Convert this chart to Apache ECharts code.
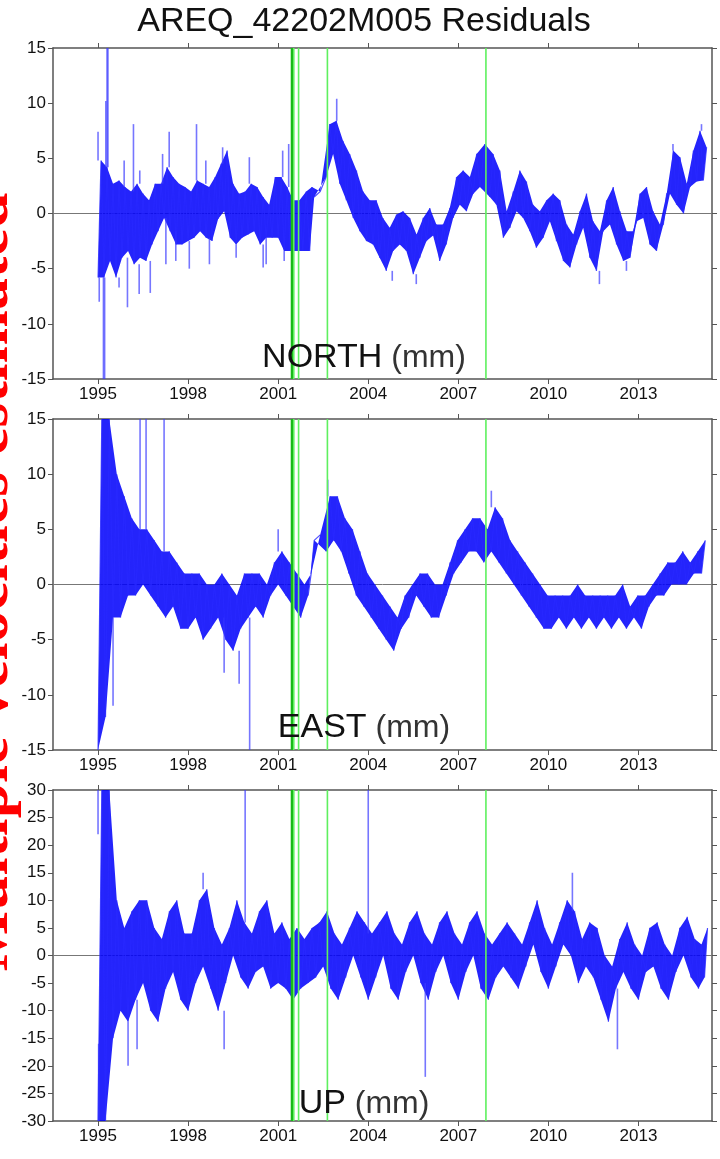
<!DOCTYPE html>
<html><head><meta charset="utf-8">
<script src="https://cdn.jsdelivr.net/npm/echarts@6/dist/echarts.min.js"></script>
<style>html,body{margin:0;padding:0;background:#fff}#c{width:720px;height:1159px}</style>
</head><body><div id="c"></div>
<script>
// ---------------- data ----------------
const chartTitle = 'AREQ_42202M005 Residuals';
const sideNote = 'Multiple velocities estimated';
const panelNames = ['NORTH', 'EAST', 'UP'];
const unitText = '(mm)';
const xTicks = [1995, 1998, 2001, 2004, 2007, 2010, 2013];
const yRanges = [[-15, 15], [-15, 15], [-30, 30]];
const breakYears = [2001.46, 2001.52, 2001.68, 2002.64, 2007.92];

// [year, core low, core high]
const north = [
[1995.0,-5.8,4.8],[1995.2,-5.8,4.2],[1995.4,-4.3,2.7],[1995.6,-5.8,3.0],[1995.8,-4.0,2.4],[1996.0,-3.4,2.0],[1996.2,-4.6,2.7],[1996.4,-4.0,1.8],[1996.6,-4.3,1.2],[1996.8,-2.8,2.7],[1997.0,-1.6,2.7],[1997.2,-0.4,4.2],[1997.4,-1.6,3.3],[1997.6,-2.8,2.7],[1997.8,-2.8,2.4],[1998.0,-2.5,2.0],[1998.2,-2.2,3.0],[1998.4,-1.6,2.7],[1998.6,-2.2,2.4],[1998.8,-2.5,3.3],[1999.0,-0.5,4.5],[1999.2,0.2,5.7],[1999.4,-2.2,2.7],[1999.6,-2.8,1.8],[1999.8,-2.2,2.0],[2000.0,-1.9,2.7],[2000.2,-1.6,2.4],[2000.4,-2.8,1.5],[2000.6,-2.2,0.8],
[2000.8,-2.2,3.3],[2001.0,-2.2,3.3],[2001.2,-3.4,2.4],[2001.4,-3.4,1.2],[2001.6,-3.4,1.2],[2001.82,-3.4,2.0],[2002.05,-3.4,2.4],[2002.2,1.5,2.0],[2002.6,3.3,8.1],[2002.83,5.4,8.4],[2003.05,2.7,6.6],[2003.27,1.2,5.4],[2003.5,-0.4,3.9],[2003.72,-1.6,2.0],[2003.94,-2.5,1.2],[2004.16,-2.8,1.2],[2004.38,-4.0,-0.4],[2004.6,-5.2,-1.3],[2004.83,-3.4,-0.1],[2005.05,-2.8,0.2],[2005.27,-3.4,-0.4],[2005.5,-5.5,-1.9],[2005.72,-4.0,-0.4],[2005.94,-2.5,0.5],[2006.16,-2.0,-1.0],[2006.38,-4.3,-1.0],[2006.6,-2.8,0.5],[2006.83,-0.4,3.3],[2007.05,0.8,3.9],[2007.27,0.2,3.3],[2007.5,1.8,5.4],[2007.72,2.4,6.3],
[2008.05,1.5,5.4],[2008.27,0.8,3.9],[2008.5,-2.2,0.2],[2008.72,-1.3,2.0],[2008.94,0.2,3.9],[2009.16,-0.4,2.9],[2009.38,-1.6,0.8],[2009.6,-3.1,0.2],[2009.83,-2.2,1.2],[2010.05,-0.7,1.8],[2010.27,-2.5,1.2],[2010.5,-4.3,-1.0],[2010.72,-4.9,-1.9],[2010.94,-2.8,0.2],[2011.16,-1.3,1.8],[2011.38,-4.0,-0.7],[2011.6,-5.2,-1.6],[2011.83,-1.6,1.2],[2012.05,-1.0,2.4],[2012.27,-2.8,0.2],[2012.5,-4.3,-1.6],[2012.72,-4.0,-1.6],[2012.94,-0.7,1.8],[2013.16,-0.4,2.4],[2013.38,-2.8,0.2],[2013.6,-3.4,-1.0],[2013.83,-1.0,1.8],[2014.05,1.8,5.7],[2014.27,0.8,5.1],[2014.5,0.0,2.7],[2014.72,2.4,5.7],[2014.94,2.9,7.5],[2015.16,3.0,6.0]
];
const northSpikes = [
[1995.0,7.4],[1995.04,-8],[1995.18,-15],[1995.22,-15],[1995.26,10.2],[1995.3,15],[1995.33,15],[1995.7,-6.7],[1995.87,4.8],[1995.98,-8.5],[1996.18,8.1],[1996.37,-7.3],[1996.39,3.9],[1996.74,-7.2],[1997.15,5.4],[1997.26,-4.6],[1997.37,7.4],[1997.59,-4.3],[1998.04,-5],[1998.28,8.1],[1998.59,4.8],[1998.71,-4.6],[1999.15,6.0],[1999.6,-4.0],[2000.04,5.1],[2000.5,-4.9],[2000.6,-4.6],[2001.15,5.7],[2001.35,6.3],[2001.2,-4.3],[2002.95,10.4],[2004.8,-6.1],[2005.6,-6.4],[2011.7,-6.4],[2012.6,-5.2],[2014.15,6.3],[2015.1,8.1]
];

const east = [
[1995.0,-15,15],[1995.25,-12,15],[1995.5,-3,10],[1995.75,-3,8],[1996.0,-1,6],[1996.25,-1,5],[1996.5,0,5],[1996.75,-1,4],[1997.0,-2,3],[1997.25,-3,3],[1997.5,-2,2],[1997.75,-4,1],[1998.0,-4,1],[1998.25,-3,1],[1998.5,-5,0],[1998.75,-4,0],[1999.0,-3,1],[1999.25,-5,0],[1999.5,-6,-1],[1999.75,-4,1],[2000.0,-3,1],[2000.25,-2,1],[2000.5,-3,0],[2000.75,-1,2],[2001.0,0,3],[2001.25,-1,2],[2001.5,-2,1],[2001.75,-3,0],[2002.0,-1,1],[2002.2,4,4.5],[2002.6,3,8],[2002.85,4,8],[2003.1,3,6],[2003.35,1,5],[2003.6,-1,3],[2003.85,-2,1],[2004.1,-3,0],[2004.35,-4,-1],[2004.6,-5,-2],[2004.85,-6,-3],[2005.1,-4,-1],[2005.35,-3,0],[2005.6,-1,1],[2005.85,-2,1],[2006.1,-3,0],[2006.35,-3,0],[2006.6,-1,2],[2006.85,1,4],[2007.1,2,5],[2007.35,3,6],[2007.6,3,6],[2007.85,2,5],[2008.1,3,7],[2008.35,2,6],[2008.6,1,4],[2008.85,0,3],[2009.1,-1,2],[2009.35,-2,1],[2009.6,-3,0],[2009.85,-4,-1],[2010.1,-4,-1],[2010.35,-3,-1],[2010.6,-4,-1],[2010.85,-3,0],[2011.1,-4,-1],[2011.35,-3,-1],[2011.6,-4,-1],[2011.85,-3,-1],[2012.1,-4,-1],[2012.35,-3,0],[2012.6,-4,-2],[2012.85,-3,-1],[2013.1,-4,-1],[2013.35,-2,0],[2013.6,-1,1],[2013.85,-1,2],[2014.1,0,2],[2014.35,0,3],[2014.6,0,2],[2014.85,1,3],[2015.1,1,4]
];
const eastSpikes = [
[1995.0,-15],[1995.3,15],[1995.45,15],[1995.5,-11],[1996.4,15],[1996.6,15],[1997.2,15],[1999.2,-8],[1999.7,-9],[2000.05,-15],[2001.0,5],[2002.65,9.5],[2008.1,8.5]
];

const up = [
[1995.0,-30,30],[1995.25,-30,30],[1995.5,-15,10],[1995.75,-10,5],[1996.0,-12,8],[1996.25,-8,10],[1996.5,-5,10],[1996.75,-10,5],[1997.0,-12,3],[1997.25,-6,8],[1997.5,-3,10],[1997.75,-8,4],[1998.0,-10,4],[1998.25,-5,10],[1998.5,-2,12],[1998.75,-6,5],[1999.0,-10,2],[1999.25,-5,5],[1999.5,0,10],[1999.75,-4,6],[2000.0,-6,4],[2000.25,-3,8],[2000.5,-2,10],[2000.75,-6,4],[2001.0,-5,6],[2001.25,-6,3],[2001.5,-8,5],[2001.75,-6,3],[2002.0,-5,5],[2002.25,-4,6],[2002.5,-2,8],[2002.75,-6,4],[2003.0,-8,2],[2003.25,-4,5],[2003.5,0,8],[2003.75,-4,6],[2004.0,-8,4],[2004.25,-4,6],[2004.5,0,8],[2004.75,-6,4],[2005.0,-8,2],[2005.25,-3,6],[2005.5,0,8],[2005.75,-5,4],[2006.0,-8,2],[2006.25,-3,6],[2006.5,0,8],[2006.75,-5,4],[2007.0,-8,2],[2007.25,-3,6],[2007.5,0,8],[2007.75,-6,4],[2008.0,-8,2],[2008.25,-4,4],[2008.5,-2,6],[2008.75,-4,4],[2009.0,-6,2],[2009.25,-2,6],[2009.5,2,10],[2009.75,-3,5],[2010.0,-6,2],[2010.25,-2,6],[2010.5,2,10],[2010.75,0,8],[2011.0,-5,3],[2011.25,-2,6],[2011.5,-4,5],[2011.75,-8,0],[2012.0,-12,-2],[2012.25,-6,3],[2012.5,-3,6],[2012.75,-6,2],[2013.0,-8,0],[2013.25,-3,5],[2013.5,-2,6],[2013.75,-6,2],[2014.0,-8,0],[2014.25,-3,5],[2014.5,0,7],[2014.75,-4,3],[2015.0,-6,2],[2015.2,-4,5]
];
const upSpikes = [
[1995.0,22],[1995.02,-16],[1995.3,30],[1995.32,-30],[1996.0,-20],[1996.3,-17],[1998.5,15],[1999.2,-17],[1999.9,30],[2004.0,30],[2005.9,-22],[2010.8,15],[2012.3,-17]
];

// ---------------- build ----------------
const comps = [
  { bins: north, spikes: northSpikes },
  { bins: east, spikes: eastSpikes },
  { bins: up, spikes: upSpikes }
];
const X_MIN = 1993.5, X_MAX = 2015.45;
const gridTops = [48, 419, 790];
const gridH = 331;

const grids = [], xAxes = [], yAxes = [], series = [];
const axisCol = '#555';
const labelFont = { fontFamily: 'Liberation Sans', fontSize: 17, color: '#111' };

comps.forEach((c, i) => {
  grids.push({ left: 53, width: 659, top: gridTops[i], height: gridH });
  const xBase = { type: 'value', gridIndex: i, min: X_MIN, max: X_MAX,
    axisLine: { show: true, onZero: false, lineStyle: { color: axisCol, width: 1.5 } },
    splitLine: { show: false } };
  xAxes.push(Object.assign({}, xBase, { position: 'bottom',
    axisTick: { show: true, customValues: xTicks, length: 5, lineStyle: { color: axisCol } },
    axisLabel: Object.assign({ show: true, customValues: xTicks, margin: 7, formatter: v => String(v) }, labelFont) }));
  xAxes.push(Object.assign({}, xBase, { position: 'top',
    axisTick: { show: true, customValues: xTicks, length: 5, lineStyle: { color: axisCol } },
    axisLabel: { show: false } }));
  const [ymin, ymax] = yRanges[i];
  const yBase = { type: 'value', gridIndex: i, min: ymin, max: ymax, interval: 5,
    axisLine: { show: true, onZero: false, lineStyle: { color: axisCol, width: 1.5 } },
    splitLine: { show: false },
    axisTick: { show: true, length: 5, lineStyle: { color: axisCol } } };
  yAxes.push(Object.assign({}, yBase, { position: 'left',
    axisLabel: Object.assign({ show: true, margin: 7, formatter: v => String(v) }, labelFont) }));
  yAxes.push(Object.assign({}, yBase, { position: 'right', axisLabel: { show: false } }));

  const xi = i * 2, yi = i * 2;
  const bins = c.bins;
  // zigzag through low/high of every bin
  const zig = [];
  bins.forEach((b, k) => {
    const step = k < bins.length - 1 ? bins[k + 1][0] - b[0] : b[0] - bins[k - 1][0];
    zig.push([b[0], b[1]]);
    zig.push([b[0] + step / 2, b[2]]);
  });
  // zero line
  series.push({ type: 'custom', xAxisIndex: xi, yAxisIndex: yi, z: 1, silent: true,
    data: [[X_MIN, 0]], encode: { x: 0, y: 1 },
    renderItem: (p, api) => {
      const a = api.coord([X_MIN, 0]), b = api.coord([X_MAX, 0]);
      return { type: 'line', shape: { x1: a[0], y1: a[1], x2: b[0], y2: b[1] }, style: { stroke: '#777', lineWidth: 1 } };
    } });
  // dense band
  series.push({ type: 'custom', xAxisIndex: xi, yAxisIndex: yi, z: 2, silent: true, clip: true,
    data: [[bins[0][0], 0]], encode: { x: 0, y: 1 },
    renderItem: (p, api) => {
      const pts = [];
      zig.forEach((q, k) => { if (k % 2 === 1) pts.push(api.coord(q)); });
      for (let k = zig.length - 2; k >= 0; k -= 2) pts.push(api.coord(zig[k]));
      return { type: 'polygon', shape: { points: pts }, style: { fill: 'rgba(0,0,250,0.86)' } };
    } });
  // spikes (outliers)
  const spk = c.spikes.map(s => {
    let k = 0; while (k < bins.length - 1 && bins[k + 1][0] <= s[0]) k++;
    return [s[0], s[1] >= 0 ? bins[k][2] : bins[k][1], s[1]];
  });
  series.push({ type: 'custom', xAxisIndex: xi, yAxisIndex: yi, z: 3, silent: true, clip: true,
    data: spk, encode: { x: 0, y: [1, 2] },
    renderItem: (p, api) => {
      const a = api.coord([api.value(0), api.value(1)]), b = api.coord([api.value(0), api.value(2)]);
      return { type: 'line', shape: { x1: a[0], y1: a[1], x2: b[0], y2: b[1] }, style: { stroke: 'rgba(60,60,255,0.7)', lineWidth: 1.6 } };
    } });
  series.push({ type: 'line', xAxisIndex: xi, yAxisIndex: yi, z: 4, silent: true, clip: true,
    data: zig, showSymbol: false, symbol: 'none',
    lineStyle: { color: 'rgba(40,40,255,0.8)', width: 1.2 } });
  // break lines
  series.push({ type: 'custom', xAxisIndex: xi, yAxisIndex: yi, z: 6, silent: true,
    data: breakYears.map(t => [t, 0]), encode: { x: 0, y: 1 },
    renderItem: (p, api) => {
      const t = api.value(0);
      const a = api.coord([t, ymin]), b = api.coord([t, ymax]);
      const first = p.dataIndex === 0;
      return { type: 'line', shape: { x1: a[0], y1: a[1], x2: b[0], y2: b[1] },
        style: { stroke: first ? '#19b919' : '#5ef05e', lineWidth: first ? 2.5 : 1.6 } };
    } });
});

const labelCenters = [358, 728, 1104];
const graphic = [
  { type: 'text', x: 364, y: 22, z: 20, style: { text: chartTitle, font: '34px "Liberation Sans"', fill: '#111', textAlign: 'center', textVerticalAlign: 'middle' } },
  { type: 'text', x: 22, y: 582, rotation: Math.PI / 2, z: 20,
    style: { text: sideNote, font: 'bold 64px "Liberation Serif"', fill: '#ff0000', textAlign: 'center', textVerticalAlign: 'bottom' } }
];
panelNames.forEach((n, i) => {
  graphic.push({ type: 'text', x: 364, y: labelCenters[i], z: 20,
    style: { text: '{a|' + n + '}{b| ' + unitText + '}', textAlign: 'center', textVerticalAlign: 'middle',
      rich: { a: { font: '34px "Liberation Sans"', fill: '#111' }, b: { font: '32px "Liberation Sans"', fill: '#333' } } } });
});

const chart = echarts.init(document.getElementById('c'), null, { renderer: 'canvas' });
chart.setOption({ animation: false, backgroundColor: '#fff', grid: grids, xAxis: xAxes, yAxis: yAxes, series, graphic });
</script></body></html>
